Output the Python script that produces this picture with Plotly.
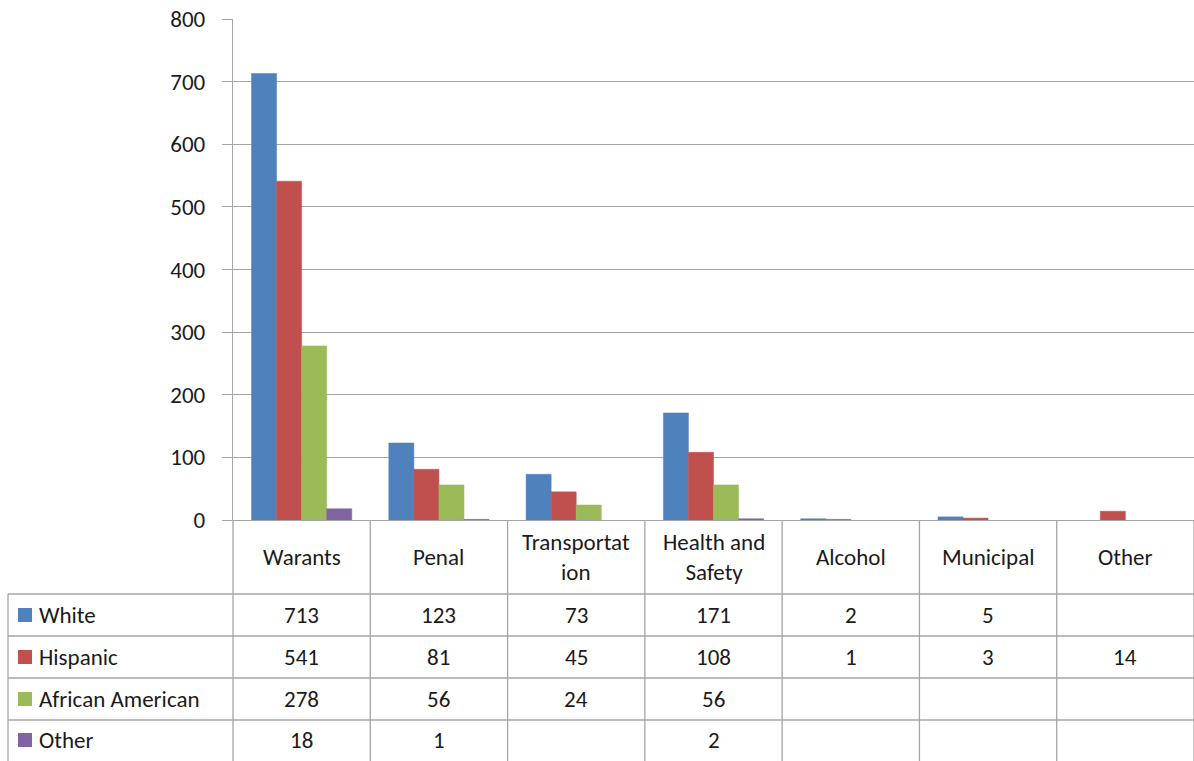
import plotly.graph_objects as go

categories = ["Warants", "Penal", "Transportation", "Health and Safety", "Alcohol", "Municipal", "Other"]
header_labels = ["Warants", "Penal", "Transportat<br>ion", "Health and<br>Safety", "Alcohol", "Municipal", "Other"]
series_names = ["White", "Hispanic", "African American", "Other"]
white = [713, 123, 73, 171, 2, 5, None]
hispanic = [541, 81, 45, 108, 1, 3, 14]
african_american = [278, 56, 24, 56, None, None, None]
other = [18, 1, None, 2, None, None, None]
colors = ["#4F81BD", "#C0504D", "#9BBB59", "#8064A2"]
y_ticks = [0, 100, 200, 300, 400, 500, 600, 700, 800]

series_values = [white, hispanic, african_american, other]

W, H = 1194, 761
ML, MT = 233, 19
PLOT_BOTTOM = 520
MB = H - PLOT_BOTTOM
PW = W - ML
PH = PLOT_BOTTOM - MT
FONT = "Carlito, Calibri, 'Open Sans', sans-serif"
FS = 23
GRID = "#A6A6A6"
TXT = "#1A1A1A"


def py(p):
    # pixel row -> paper y
    return (PLOT_BOTTOM - p) / PH


def px(p):
    # pixel column -> paper x
    return (p - ML) / PW


fig = go.Figure()
for name, vals, col in zip(series_names, series_values, colors):
    fig.add_trace(go.Bar(
        x=categories, y=vals, name=name,
        marker=dict(color=col, line=dict(color=col, width=0.5)),
    ))

n = len(categories)
shapes = []
annotations = []
line = dict(color=GRID, width=1.3)

# table vertical lines
for i in range(n + 1):
    shapes.append(dict(type="line", xref="paper", yref="paper",
                       x0=i / n, x1=i / n, y0=0, y1=py(H), line=line))
shapes.append(dict(type="line", xref="paper", yref="paper",
                   x0=px(8), x1=px(8), y0=py(594), y1=py(H), line=line))
# table horizontal lines
row_tops = [594, 636, 678, 720]
for r in row_tops:
    shapes.append(dict(type="line", xref="paper", yref="paper",
                       x0=px(8), x1=1, y0=py(r), y1=py(r), line=line))

# header labels
for cat, lab in zip(categories, header_labels):
    annotations.append(dict(x=cat, xref="x", y=py(557), yref="paper",
                            xanchor="center", yanchor="middle",
                            text=lab, showarrow=False,
                            font=dict(family=FONT, size=FS, color=TXT)))

row_centers = [615, 657, 699, 740]
for name, vals, col, rc in zip(series_names, series_values, colors, row_centers):
    shapes.append(dict(type="rect", xref="paper", yref="paper",
                       x0=px(18), x1=px(32), y0=py(rc - 7), y1=py(rc + 7),
                       fillcolor=col, line=dict(width=0)))
    annotations.append(dict(x=px(37), xref="paper", y=py(rc), yref="paper",
                            xanchor="left", yanchor="middle", text=name,
                            showarrow=False,
                            font=dict(family=FONT, size=FS, color=TXT)))
    for cat, v in zip(categories, vals):
        if v is None:
            continue
        annotations.append(dict(x=cat, xref="x", y=py(rc), yref="paper",
                                xanchor="center", yanchor="middle",
                                text=str(v), showarrow=False,
                                font=dict(family=FONT, size=FS, color=TXT)))

fig.update_layout(
    width=W, height=H,
    margin=dict(l=ML, r=0, t=MT, b=MB, pad=0, autoexpand=False),
    paper_bgcolor="white", plot_bgcolor="white",
    barmode="group", bargap=0.27, bargroupgap=0,
    showlegend=False,
    shapes=shapes, annotations=annotations,
    font=dict(family=FONT, size=FS, color=TXT),
)
fig.update_xaxes(type="category", showticklabels=False, showline=True,
                 linecolor=GRID, linewidth=1.3, ticks="", showgrid=False,
                 range=[-0.5, n - 0.5], automargin=False)
fig.update_yaxes(range=[0, 800], tickvals=y_ticks, showgrid=True,
                 gridcolor=GRID, gridwidth=1.3, showline=True, linecolor=GRID,
                 linewidth=1.3, ticks="outside", ticklen=10, tickcolor=GRID,
                 tickwidth=1.3, zeroline=False, ticklabelstandoff=12,
                 ticklabeloverflow="allow", automargin=False,
                 tickfont=dict(family=FONT, size=FS, color=TXT))

fig.write_html(
    "out.html",
    config={"displayModeBar": False},
    post_script="document.body.style.margin='0';document.body.style.overflow='hidden';",
)
